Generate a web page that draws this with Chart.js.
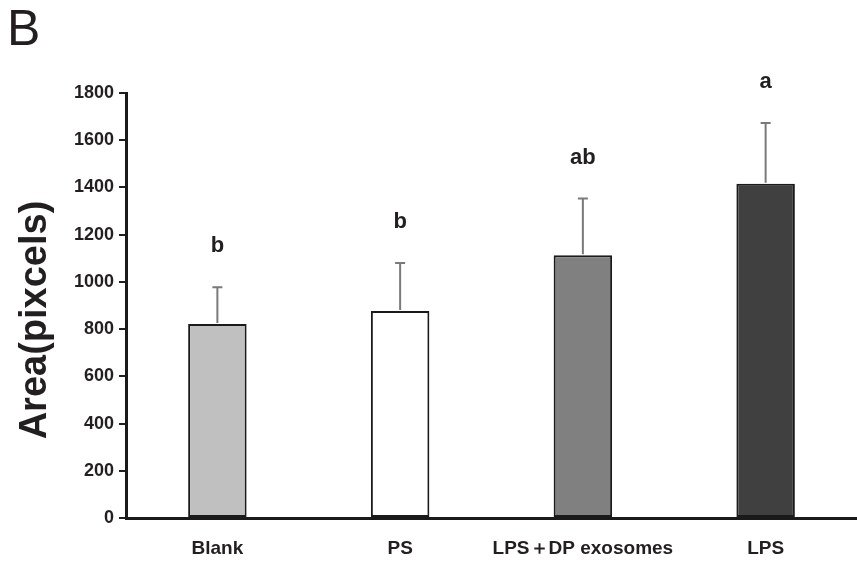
<!DOCTYPE html>
<html lang="en">
<head>
    <meta charset="UTF-8">
    <title>Area (pixcels)</title>
    <style>
        body { margin: 0; padding: 0; background: #ffffff; }
        .wrap { position: relative; width: 857px; height: 567px; }
        .panel {
            position: absolute; left: 7px; top: -1px;
            font-family: Arial, "Liberation Sans", sans-serif;
            font-size: 50px; color: #231f20;
        }
    </style>
</head>
<body>
    <div class="wrap">
        <canvas id="areaChart" width="857" height="567"></canvas>
        <div class="panel">B</div>
    </div>

    <script src="https://cdn.jsdelivr.net/npm/chart.js"></script>
    <script>
        // Data
        const groups = ["Blank", "PS", "LPS\uFF0BDP exosomes", "LPS"];
        const means = [822, 877, 1113, 1416];
        const errors = [155, 203, 240, 257];
        const letters = ["b", "b", "ab", "a"];
        const yTicks = [0, 200, 400, 600, 800, 1000, 1200, 1400, 1600, 1800];

        const barColors = ["#c0c0c0", "#ffffff", "#808080", "#404040"];
        const ink = "#231f20";
        const font = "Arial, 'Liberation Sans', sans-serif";

        // error bars + significance letters + y title
        const extras = {
            id: "extras",
            afterDatasetsDraw(chart) {
                const c = chart.ctx;
                const y = chart.scales.y;
                const meta = chart.getDatasetMeta(0);
                c.save();
                meta.data.forEach((bar, i) => {
                    const top = y.getPixelForValue(means[i] + errors[i]);
                    c.strokeStyle = "#7a7a7a";
                    c.lineWidth = 2;
                    c.beginPath();
                    c.moveTo(bar.x, bar.y - 1);
                    c.lineTo(bar.x, top);
                    c.moveTo(bar.x - 5, top);
                    c.lineTo(bar.x + 5, top);
                    c.stroke();

                    c.fillStyle = ink;
                    c.font = "bold 22px " + font;
                    c.textAlign = "center";
                    c.textBaseline = "bottom";
                    c.fillText(letters[i], bar.x, top - 30);
                });

                c.translate(36, 320);
                c.rotate(-Math.PI / 2);
                c.font = "bold 38px " + font;
                c.textAlign = "center";
                c.textBaseline = "middle";
                c.fillText("Area(pixcels)", 0, 0);
                c.restore();
            }
        };

        const ctx = document.getElementById("areaChart").getContext("2d");
        new Chart(ctx, {
            type: "bar",
            data: {
                labels: groups,
                datasets: [{
                    data: means,
                    backgroundColor: barColors,
                    borderColor: "#1a1a1a",
                    borderWidth: 2,
                    borderSkipped: false,
                    barPercentage: 0.32,
                    categoryPercentage: 1.0
                }]
            },
            options: {
                responsive: false,
                animation: false,
                layout: { padding: { top: 93, left: 0, right: 0, bottom: 0 } },
                plugins: {
                    legend: { display: false },
                    tooltip: { enabled: false }
                },
                scales: {
                    x: {
                        grid: { display: false },
                        border: { display: true, color: "#1a1a1a", width: 3 },
                        ticks: {
                            color: ink,
                            padding: 11,
                            maxRotation: 0,
                            autoSkip: false,
                            font: { family: font, size: 19, weight: "bold" }
                        },
                        afterFit(scale) { scale.height = 49; }
                    },
                    y: {
                        min: 0,
                        max: 1800,
                        afterBuildTicks(scale) {
                            scale.ticks = yTicks.map(v => ({ value: v }));
                        },
                        grid: {
                            drawOnChartArea: false,
                            drawTicks: true,
                            tickLength: 7,
                            color: ink,
                            lineWidth: 2
                        },
                        border: { display: true, color: "#1a1a1a", width: 3 },
                        ticks: {
                            color: ink,
                            padding: 5,
                            callback: v => String(v),
                            font: { family: font, size: 18, weight: "bold" }
                        },
                        afterFit(scale) { scale.width = 126; }
                    }
                }
            },
            plugins: [extras]
        });
    </script>
</body>
</html>
